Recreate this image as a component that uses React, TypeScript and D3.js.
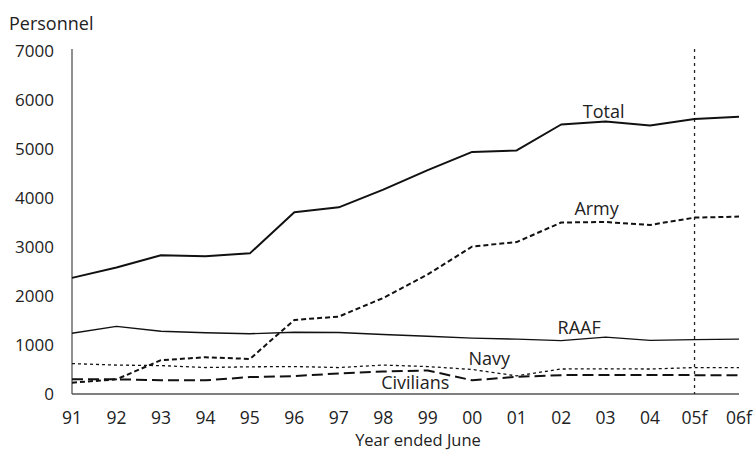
import React, { useEffect, useRef } from 'react';
import * as d3 from 'd3';

const years = ['91', '92', '93', '94', '95', '96', '97', '98', '99', '00', '01', '02', '03', '04', '05f', '06f'];
const total = [2370, 2580, 2830, 2810, 2870, 3710, 3810, 4170, 4570, 4940, 4970, 5500, 5560, 5480, 5610, 5660];
const army = [230, 300, 690, 750, 715, 1510, 1580, 1960, 2440, 3010, 3100, 3500, 3510, 3450, 3600, 3620];
const raaf = [1240, 1380, 1280, 1250, 1230, 1260, 1255, 1215, 1180, 1140, 1120, 1090, 1160, 1095, 1110, 1120];
const navy = [620, 590, 580, 540, 555, 560, 540, 590, 560, 500, 370, 510, 515, 510, 540, 540];
const civilians = [300, 300, 280, 280, 345, 365, 420, 460, 480, 280, 350, 385, 390, 390, 385, 385];
const yTicks = [0, 1000, 2000, 3000, 4000, 5000, 6000, 7000];

const series = [
  { name: 'Total', values: total, width: 2, dash: null, label: { i: 12, dx: -2, dy: -4 } },
  { name: 'Army', values: army, width: 2, dash: '5,3', label: { i: 12, dx: -9, dy: -7 } },
  { name: 'RAAF', values: raaf, width: 1.4, dash: null, label: { i: 11, dx: 18, dy: -7 } },
  { name: 'Navy', values: navy, width: 1.3, dash: '3,3', label: { i: 9, dx: 17, dy: -5 } },
  { name: 'Civilians', values: civilians, width: 2, dash: '11,5', label: { i: 9, dx: -57, dy: 9 } },
];

export default function App() {
  const svgRef = useRef<SVGSVGElement>(null);

  useEffect(() => {
    if (!svgRef.current) return;
    const svg = d3.select(svgRef.current);
    svg.selectAll('*').remove();

    const font = '"Open Sans", "DejaVu Sans", sans-serif';
    const margin = { left: 72, right: 17, top: 50, bottom: 57 };
    const width = 756;
    const height = 451;

    const x = d3.scalePoint<string>()
      .domain(years)
      .range([margin.left, width - margin.right]);
    const y = d3.scaleLinear()
      .domain([0, 7000])
      .range([height - margin.bottom, margin.top + 1]);

    svg.append('rect').attr('width', width).attr('height', height).attr('fill', '#fff');

    // axes
    svg.append('line')
      .attr('x1', margin.left).attr('x2', margin.left)
      .attr('y1', y(7000) - 2).attr('y2', y(0))
      .attr('stroke', '#555').attr('stroke-width', 1.3);
    svg.append('line')
      .attr('x1', margin.left).attr('x2', x('06f')!)
      .attr('y1', y(0)).attr('y2', y(0))
      .attr('stroke', '#555').attr('stroke-width', 1.3);

    svg.append('g')
      .selectAll('text')
      .data(yTicks)
      .enter()
      .append('text')
      .attr('x', 54)
      .attr('y', d => y(d) + 6)
      .attr('text-anchor', 'end')
      .attr('font-family', font)
      .attr('font-size', 17)
      .attr('fill', '#222')
      .text(d => String(d));

    svg.append('g')
      .selectAll('text')
      .data(years)
      .enter()
      .append('text')
      .attr('x', d => x(d)!)
      .attr('y', 423.5)
      .attr('text-anchor', 'middle')
      .attr('font-family', font)
      .attr('font-size', 17.5)
      .attr('fill', '#222')
      .text(d => d);

    svg.append('text')
      .attr('x', 9).attr('y', 30)
      .attr('font-family', font).attr('font-size', 18).attr('fill', '#222')
      .text('Personnel');
    svg.append('text')
      .attr('x', 418).attr('y', 446)
      .attr('text-anchor', 'middle')
      .attr('font-family', font).attr('font-size', 16.5).attr('fill', '#222')
      .text('Year ended June');

    // forecast divider
    svg.append('line')
      .attr('x1', x('05f')!).attr('x2', x('05f')!)
      .attr('y1', y(7000) - 2).attr('y2', y(0))
      .attr('stroke', '#222').attr('stroke-width', 1.3)
      .attr('stroke-dasharray', '3,4');

    const line = d3.line<number>()
      .x((_, i) => x(years[i])!)
      .y(d => y(d));

    series.forEach(s => {
      svg.append('path')
        .attr('d', line(s.values))
        .attr('fill', 'none')
        .attr('stroke', '#111')
        .attr('stroke-width', s.width)
        .attr('stroke-dasharray', s.dash)
        .attr('stroke-linejoin', 'round');
      svg.append('text')
        .attr('x', x(years[s.label.i])! + s.label.dx)
        .attr('y', y(s.values[s.label.i]) + s.label.dy)
        .attr('text-anchor', 'middle')
        .attr('font-family', font)
        .attr('font-size', 18)
        .attr('fill', '#222')
        .text(s.name);
    });
  }, []);

  return (
    <svg ref={svgRef} width={756} height={451} style={{ display: 'block', position: 'absolute', left: 0, top: 0 }} />
  );
}
